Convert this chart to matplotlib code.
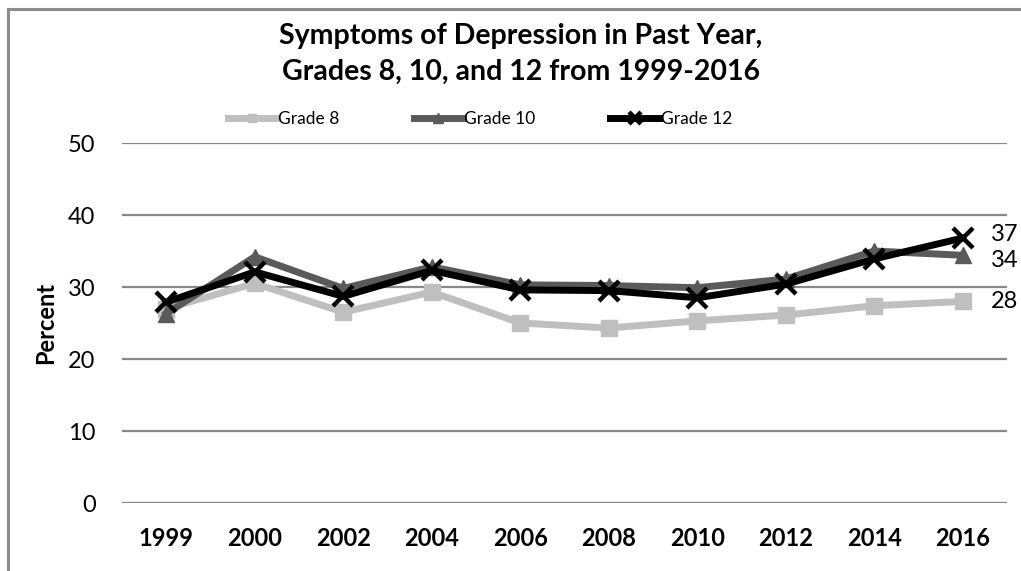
import matplotlib.pyplot as plt
from matplotlib.patches import Rectangle

plt.rcParams['font.family'] = ['Lato', 'DejaVu Sans']

years = ['1999', '2000', '2002', '2004', '2006', '2008', '2010', '2012', '2014', '2016']
grade8 = [27.0, 30.5, 26.5, 29.3, 25.0, 24.3, 25.3, 26.1, 27.4, 28.0]
grade10 = [26.3, 34.2, 29.8, 32.8, 30.3, 30.2, 29.9, 31.1, 35.0, 34.4]
grade12 = [27.9, 32.1, 28.7, 32.3, 29.6, 29.5, 28.5, 30.4, 33.9, 36.8]
end_labels = ['28', '34', '37']

fig = plt.figure(figsize=(10.21, 5.71), dpi=100)
# chart frame (cropped at right and bottom in the original)
fig.patches.append(Rectangle((8 / 1021, -0.1), 1.2, 1 - 9 / 571 + 0.1,
                             transform=fig.transFigure, fill=False,
                             edgecolor='#8c8c8c', linewidth=2.2))

ax = fig.add_axes([122 / 1021, 68 / 571, 885 / 1021, 360 / 571])
x = range(len(years))

ax.plot(x, grade8, color='#bfbfbf', lw=5, marker='s', ms=11, label='Grade 8', zorder=3)
ax.plot(x, grade10, color='#5a5a5a', lw=5, marker='^', ms=12, label='Grade 10', zorder=4)
ax.plot(x, grade12, color='black', lw=5, marker='x', ms=15, mew=3.2, label='Grade 12', zorder=5)

ax.set_xlim(-0.5, len(years) - 0.5)
ax.set_ylim(0, 50)
ax.set_yticks(range(0, 51, 10))
ax.set_xticks(list(x))
ax.set_xticklabels(years, fontweight='bold', fontsize=17)
ax.tick_params(axis='y', labelsize=17, length=0, pad=19)
ax.tick_params(axis='x', length=0, pad=17)
ax.grid(axis='y', color='#888888', lw=1.6)
ax.set_axisbelow(True)
for s in ax.spines.values():
    s.set_visible(False)

ax.set_ylabel('Percent', fontweight='bold', fontsize=17, labelpad=8)

# value labels next to the 2016 points
for val, lab in zip([grade8[-1], grade10[-1], grade12[-1]], end_labels):
    off = {'28': 0, '34': -0.7, '37': 0.5}[lab]
    ax.annotate(lab, (len(years) - 1, val + off), xytext=(20, 0),
                textcoords='offset points', va='center', ha='left', fontsize=17)

fig.text(0.51, 1 - 54 / 571, 'Symptoms of Depression in Past Year,\nGrades 8, 10, and 12 from 1999-2016',
         ha='center', va='center', fontsize=20.5, fontweight='bold', linespacing=1.45)

fig.legend(loc='center', bbox_to_anchor=(0.47, 1 - 119 / 571), ncol=3, frameon=False,
           fontsize=12.5, handlelength=2.8, handletextpad=0.1, columnspacing=4.3,
           markerscale=0.55)

fig.savefig('out.png', dpi=100)
